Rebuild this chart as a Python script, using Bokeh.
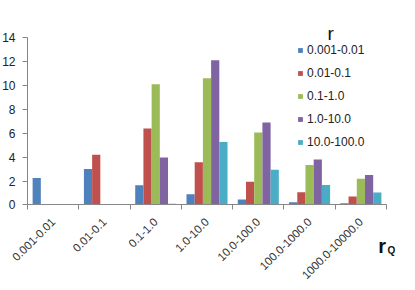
import math
from bokeh.plotting import figure
from bokeh.models import (Range1d, FixedTicker, Legend, LegendItem, Label,
                          ColumnDataSource)
from bokeh.embed import file_html
from bokeh.resources import INLINE

categories = ["0.001-0.01", "0.01-0.1", "0.1-1.0", "1.0-10.0",
              "10.0-100.0", "100.0-1000.0", "1000.0-10000.0"]
series_names = ["0.001-0.01", "0.01-0.1", "0.1-1.0", "1.0-10.0", "10.0-100.0"]
s_0001_001 = [2.25, 3.0, 1.65, 0.9, 0.45, 0.22, 0.15]
s_001_01 = [0.0, 4.2, 6.4, 3.57, 1.95, 1.06, 0.7]
s_01_1 = [0.0, 0.0, 10.1, 10.6, 6.05, 3.35, 2.2]
s_1_10 = [0.0, 0.0, 3.98, 12.1, 6.9, 3.8, 2.5]
s_10_100 = [0.0, 0.0, 0.1, 5.27, 2.95, 1.67, 1.05]
y_ticks = [0, 2, 4, 6, 8, 10, 12, 14]

series_values = [s_0001_001, s_001_01, s_01_1, s_1_10, s_10_100]
colors = ["#4F81BD", "#C0504D", "#9BBB59", "#8064A2", "#4BACC6"]

ncat = len(categories)
# the frame covers the whole canvas; both axes are pinned at 0 and limited with bounds
p = figure(width=415, height=290, output_backend="svg", toolbar_location=None,
           x_range=Range1d(-0.5264, 7.565), y_range=Range1d(-7.147, 17.093),
           min_border_left=0, min_border_right=0, min_border_top=0,
           min_border_bottom=0)
p.outline_line_color = None
p.xgrid.visible = False
p.ygrid.visible = False
p.background_fill_color = "white"
p.border_fill_color = "white"

bw = 0.16
items = []
for j, (name, vals, c) in enumerate(zip(series_names, series_values, colors)):
    xs = [i + 0.5 + (j - 2) * bw for i in range(ncat)]
    src = ColumnDataSource(dict(x=xs, top=vals))
    r = p.vbar(x="x", top="top", width=bw, bottom=0, source=src,
               fill_color=c, line_color=None)
    items.append(LegendItem(label=name, renderers=[r]))

# y axis
yax = p.yaxis[0]
yax.fixed_location = 0
yax.ticker = FixedTicker(ticks=y_ticks)
yax.bounds = (y_ticks[0], y_ticks[-1])
yax.axis_line_color = "#868686"
yax.major_tick_line_color = "#868686"
yax.major_tick_out = 5
yax.major_tick_in = 0
yax.minor_tick_line_color = None
yax.major_label_standoff = 7
yax.major_label_text_font = "Liberation Sans"
yax.major_label_text_font_size = "12px"
yax.major_label_text_color = "#222222"

# x axis, pinned at y = 0
xax = p.xaxis[0]
centers = [i + 0.5 for i in range(ncat)]
bounds = [i for i in range(ncat + 1)]
xax.fixed_location = 0
xax.bounds = (0, ncat)
xax.ticker = FixedTicker(ticks=centers, minor_ticks=bounds)
xax.major_label_overrides = {c: lab for c, lab in zip(centers, categories)}
xax.axis_line_color = "#868686"
xax.major_tick_line_color = None
xax.major_tick_out = 0
xax.major_tick_in = 0
xax.minor_tick_line_color = "#868686"
xax.minor_tick_out = 5
xax.minor_tick_in = 0
xax.major_label_orientation = math.pi / 4
xax.major_label_standoff = 10
xax.major_label_text_font = "Liberation Sans"
xax.major_label_text_font_size = "11.5px"
xax.major_label_text_color = "#333333"

legend = Legend(items=items, location=(297, 138), padding=0, margin=0,
                spacing=3, label_height=20, glyph_width=6, glyph_height=6,
                label_standoff=4, border_line_color=None,
                background_fill_alpha=0, label_text_font="Liberation Sans",
                label_text_font_size="12px", label_text_color="#222222")
p.add_layout(legend)

p.add_layout(Label(x=5.91, y=14.33, text="r", text_font="Liberation Sans",
                   text_font_size="19px", text_color="#111111",
                   text_align="center", text_baseline="alphabetic"))
p.add_layout(Label(x=6.84, y=-3.39, text="r", text_font="Liberation Sans",
                   text_font_size="20px", text_font_style="bold",
                   text_color="#111111", text_baseline="alphabetic"))
p.add_layout(Label(x=7.02, y=-3.81, text="Q", text_font="Liberation Sans",
                   text_font_size="10px", text_font_style="bold",
                   text_color="#111111", text_baseline="alphabetic"))

open("out.html", "w").write(file_html(p, INLINE))
